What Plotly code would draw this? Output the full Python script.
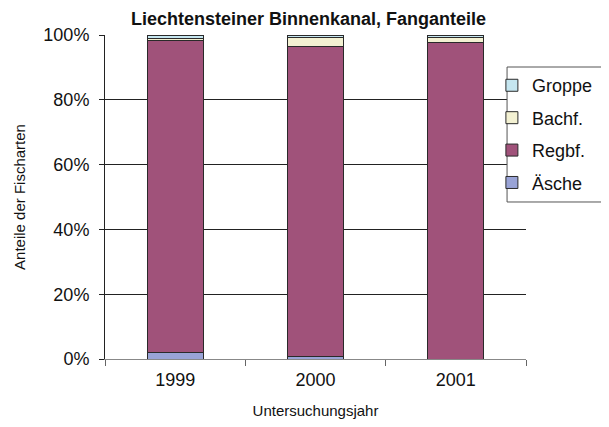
import plotly.graph_objects as go

years = ["1999", "2000", "2001"]
aesche = [2.0, 0.8, 0.0]
regbf = [96.2, 95.5, 97.7]
bachf = [0.6, 2.9, 1.4]
groppe = [1.2, 0.8, 0.9]

series = [
    ("Äsche", aesche, "#99A3D6", 4),
    ("Regbf.", regbf, "#A0527A", 3),
    ("Bachf.", bachf, "#F3F1D2", 2),
    ("Groppe", groppe, "#C5E6F0", 1),
]

fig = go.Figure()
for name, vals, col, rank in series:
    fig.add_trace(go.Bar(
        x=years, y=vals, name=name, legendgroup=name, legendrank=rank,
        marker=dict(color=col, line=dict(color="#2a2a2a", width=1)),
        width=0.4,
    ))

font = "Liberation Sans, Arial, sans-serif"
fig.update_layout(
    barmode="stack",
    width=601, height=419,
    margin=dict(l=97, r=83, t=27, b=68, autoexpand=False),
    paper_bgcolor="white", plot_bgcolor="white",
    font=dict(family=font, color="#111"),
    title=dict(text="<b>Liechtensteiner Binnenkanal, Fanganteile</b>",
               x=0.5, xanchor="center", y=0.9737, yanchor="middle",
               font=dict(size=18, family=font, color="#111")),
    legend=dict(x=0.919, y=0.901, xanchor="left", yanchor="top",
                traceorder="grouped", tracegroupgap=6, itemwidth=30,
                borderwidth=0, bgcolor="rgba(0,0,0,0)",
                font=dict(size=18, family=font, color="#111")),
    shapes=[dict(type="rect", xref="paper", yref="paper",
                 x0=0.955, x1=1.1876, y0=0.4846, y1=0.9012,
                 line=dict(color="#555", width=1), fillcolor="white", layer="above")],
)
fig.update_xaxes(
    type="category", range=[-0.5, 2.5],
    showline=True, linecolor="#888", linewidth=1,
    ticks="outside", tickson="boundaries", ticklen=6, tickcolor="#666",
    ticklabelstandoff=4,
    tickfont=dict(size=18, family=font, color="#111"),
    title=dict(text="Untersuchungsjahr", font=dict(size=15, family=font, color="#111"), standoff=16),
    showgrid=False,
)
fig.update_yaxes(
    range=[0, 100], dtick=20, ticksuffix="%",
    showline=True, linecolor="#222", linewidth=1,
    ticks="outside", ticklen=5, tickcolor="#222",
    ticklabelstandoff=6,
    showgrid=True, gridcolor="#222", gridwidth=1,
    tickfont=dict(size=18, family=font, color="#111"),
    title=dict(text="Anteile der Fischarten", font=dict(size=15, family=font, color="#111"), standoff=14),
    zeroline=False,
)
fig.write_html("out.html")
